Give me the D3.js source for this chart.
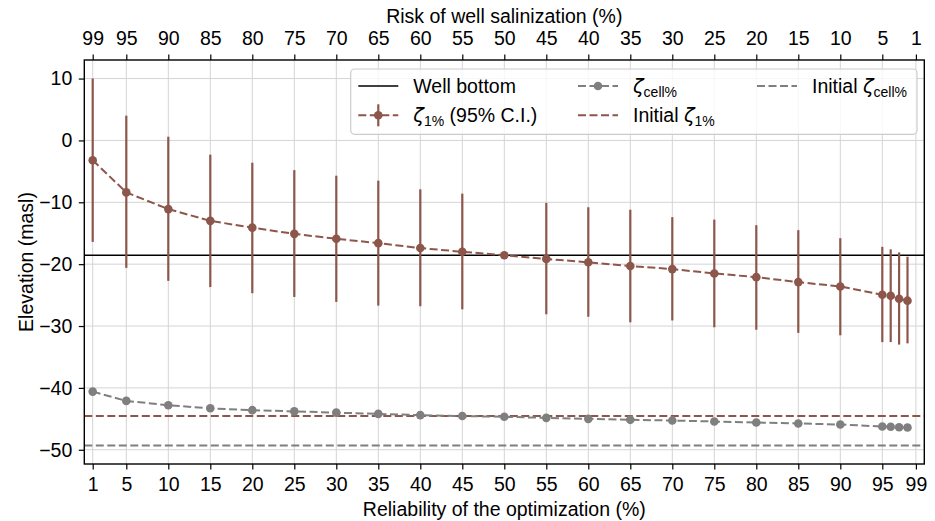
<!DOCTYPE html>
<html>
<head>
<meta charset="utf-8">
<script src="https://cdn.jsdelivr.net/npm/d3@7"></script>
<style>
  body { margin: 0; background: #fff; }
  svg { display: block; font-family: "Liberation Sans", Arial, sans-serif; }
</style>
</head>
<body>
<svg id="chart"></svg>
<script>
// reliability of the optimization (%) for each computed point
const reliability = [1, 5, 10, 15, 20, 25, 30, 35, 40, 45, 50, 55, 60, 65, 70, 75, 80, 85, 90, 95, 96, 97, 98];
// zeta 1% elevation and its 95% confidence interval
const zeta1 = [-3.2, -8.4, -11.1, -13.0, -14.1, -15.1, -15.9, -16.6, -17.4, -18.0, -18.55, -19.15, -19.7, -20.3, -20.8, -21.5, -22.1, -22.9, -23.6, -24.95, -25.1, -25.6, -25.9];
const ciLow = [-16.4, -20.6, -22.7, -23.7, -24.7, -25.3, -26.1, -26.7, -26.8, -27.3, null, -28.1, -28.5, -29.4, -29.1, -30.2, -30.6, -31.1, -31.5, -32.6, -32.6, -33.0, -32.8];
const ciHigh = [10.0, 4.0, 0.6, -2.3, -3.6, -4.8, -5.7, -6.5, -7.9, -8.6, null, -10.1, -10.8, -11.2, -12.4, -12.8, -13.7, -14.5, -15.8, -17.2, -17.6, -18.1, -18.8];
// zeta cell% elevation
const zetaCell = [-40.6, -42.1, -42.8, -43.3, -43.6, -43.8, -44.0, -44.2, -44.4, -44.55, -44.67, -44.84, -45.0, -45.16, -45.27, -45.43, -45.6, -45.75, -45.92, -46.24, -46.29, -46.35, -46.4];
// reference levels
const wellBottom = -18.55;
const initialZeta1 = -44.55;
const initialZetaCell = -49.3;
// tick labels
const bottomTicks = [1, 5, 10, 15, 20, 25, 30, 35, 40, 45, 50, 55, 60, 65, 70, 75, 80, 85, 90, 95, 99];
const topTickLabels = [99, 95, 90, 85, 80, 75, 70, 65, 60, 55, 50, 45, 40, 35, 30, 25, 20, 15, 10, 5, 1];
const yTicks = [-50, -40, -30, -20, -10, 0, 10];

const width = 935, height = 521;
const margin = {left: 84.3, right: 10.7, top: 60, bottom: 57};
const brown = "#8c564b", grey = "#7f7f7f";
const fontSize = 19.5;

const svg = d3.select("#chart").attr("width", width).attr("height", height);

const x = d3.scaleLinear().domain([0, 100]).range([margin.left, width - margin.right]);
const y = d3.scaleLinear().domain([-52.3, 13.0]).range([height - margin.bottom, margin.top]);

const data = reliability.map((r, i) => ({r, z: zeta1[i], lo: ciLow[i], hi: ciHigh[i], c: zetaCell[i]}));

// grid
const grid = svg.append("g").attr("stroke", "#d4d4d4").attr("stroke-width", 1);
grid.selectAll("line.vx").data(bottomTicks).enter().append("line")
  .attr("x1", d => x(d)).attr("x2", d => x(d))
  .attr("y1", y.range()[0]).attr("y2", y.range()[1]);
grid.selectAll("line.hy").data(yTicks).enter().append("line")
  .attr("y1", d => y(d)).attr("y2", d => y(d))
  .attr("x1", x.range()[0]).attr("x2", x.range()[1]);

// horizontal reference lines
function hline(v, color, dash) {
  svg.append("line")
    .attr("x1", x.range()[0]).attr("x2", x.range()[1])
    .attr("y1", y(v)).attr("y2", y(v))
    .attr("stroke", color).attr("stroke-width", dash ? 2 : 1.4)
    .attr("stroke-dasharray", dash ? "8,3.5" : null);
}
hline(initialZetaCell, grey, true);
hline(initialZeta1, brown, true);
hline(wellBottom, "#000", false);

const line = d3.line().x(d => x(d[0])).y(d => y(d[1]));

// zeta cell% series
svg.append("path")
  .datum(data.map(d => [d.r, d.c]))
  .attr("d", line).attr("fill", "none")
  .attr("stroke", grey).attr("stroke-width", 2).attr("stroke-dasharray", "8,3.5");
svg.selectAll("circle.cell").data(data).enter().append("circle")
  .attr("cx", d => x(d.r)).attr("cy", d => y(d.c)).attr("r", 4.3).attr("fill", grey);

// zeta 1% series with error bars
svg.selectAll("line.err").data(data.filter(d => d.lo !== null)).enter().append("line")
  .attr("x1", d => x(d.r)).attr("x2", d => x(d.r))
  .attr("y1", d => y(d.lo)).attr("y2", d => y(d.hi))
  .attr("stroke", brown).attr("stroke-width", 2.2);
svg.append("path")
  .datum(data.map(d => [d.r, d.z]))
  .attr("d", line).attr("fill", "none")
  .attr("stroke", brown).attr("stroke-width", 2).attr("stroke-dasharray", "8,3.5");
svg.selectAll("circle.z1").data(data).enter().append("circle")
  .attr("cx", d => x(d.r)).attr("cy", d => y(d.z)).attr("r", 4.3).attr("fill", brown);

// axes
function styleAxis(g) {
  g.select(".domain").remove();
  g.selectAll(".tick line").attr("stroke", "#000").attr("stroke-width", 1.2);
  g.selectAll(".tick text").attr("fill", "#000").style("font-size", fontSize + "px")
    .style("font-family", '"Liberation Sans", Arial, sans-serif');
}
svg.append("g")
  .attr("transform", `translate(0,${height - margin.bottom})`)
  .call(d3.axisBottom(x).tickValues(bottomTicks).tickSize(5.5).tickPadding(8).tickFormat(d3.format("d")))
  .call(styleAxis);
svg.append("g")
  .attr("transform", `translate(0,${margin.top})`)
  .call(d3.axisTop(x).tickValues(topTickLabels.map(v => 100 - v)).tickSize(5.5).tickPadding(9.5)
    .tickFormat((d, i) => topTickLabels[i]))
  .call(styleAxis);
svg.append("g")
  .attr("transform", `translate(${margin.left},0)`)
  .call(d3.axisLeft(y).tickValues(yTicks).tickSize(5.5).tickPadding(6.5))
  .call(styleAxis);

// frame
svg.append("rect")
  .attr("x", x.range()[0]).attr("y", y.range()[1])
  .attr("width", x.range()[1] - x.range()[0]).attr("height", y.range()[0] - y.range()[1])
  .attr("fill", "none").attr("stroke", "#000").attr("stroke-width", 1.4);

// axis titles
svg.append("text").attr("x", (x.range()[0] + x.range()[1]) / 2).attr("y", 22.5)
  .attr("text-anchor", "middle").style("font-size", fontSize + "px")
  .text("Risk of well salinization (%)");
svg.append("text").attr("x", (x.range()[0] + x.range()[1]) / 2).attr("y", 516)
  .attr("text-anchor", "middle").style("font-size", fontSize + "px")
  .text("Reliability of the optimization (%)");
svg.append("text")
  .attr("transform", `translate(33,${(y.range()[0] + y.range()[1]) / 2}) rotate(-90)`)
  .attr("text-anchor", "middle").style("font-size", fontSize + "px")
  .text("Elevation (masl)");

// legend
const legend = svg.append("g");
legend.append("rect")
  .attr("x", 350.7).attr("y", 69).attr("width", 566.3).attr("height", 65.3).attr("rx", 4)
  .attr("fill", "#fff").attr("fill-opacity", 0.8).attr("stroke", "#cccccc").attr("stroke-width", 1.2);

function zetaLabel(g, sub, prefix, suffix) {
  const t = g.append("text").style("font-size", fontSize + "px");
  if (prefix) t.append("tspan").text(prefix);
  t.append("tspan").style("font-family", '"DejaVu Sans", sans-serif').style("font-style", "italic").text("ζ");
  t.append("tspan").attr("dy", 4).style("font-size", "14px").text(sub);
  if (suffix) t.append("tspan").attr("dy", -4).text(suffix);
  return t;
}

const items = [
  {col: 0, row: 0, kind: "solid", color: "#000"},
  {col: 0, row: 1, kind: "err", color: brown},
  {col: 1, row: 0, kind: "marker", color: grey},
  {col: 1, row: 1, kind: "dash", color: brown},
  {col: 2, row: 0, kind: "dash", color: grey}
];
const colX = [358.3, 578, 757];
const rowY = [86, 115.3];
items.forEach(it => {
  const g = legend.append("g").attr("transform", `translate(${colX[it.col]},${rowY[it.row]})`);
  g.append("line").attr("x1", 0).attr("x2", 40).attr("y1", 0).attr("y2", 0)
    .attr("stroke", it.color).attr("stroke-width", it.kind === "solid" ? 1.4 : 2)
    .attr("stroke-dasharray", it.kind === "solid" ? null : "8,3.5");
  if (it.kind === "err") {
    g.append("line").attr("x1", 20).attr("x2", 20).attr("y1", -11).attr("y2", 11)
      .attr("stroke", it.color).attr("stroke-width", 2.2);
  }
  if (it.kind === "err" || it.kind === "marker") {
    g.append("circle").attr("cx", 20).attr("cy", 0).attr("r", 4.3).attr("fill", it.color);
  }
});
legend.append("text").attr("x", colX[0] + 55).attr("y", rowY[0] + 6.7)
  .style("font-size", fontSize + "px").text("Well bottom");
zetaLabel(legend, "1%", null, " (95% C.I.)").attr("x", colX[0] + 55).attr("y", rowY[1] + 6.7);
zetaLabel(legend, "cell%", null, null).attr("x", colX[1] + 55).attr("y", rowY[0] + 6.7);
zetaLabel(legend, "1%", "Initial ", null).attr("x", colX[1] + 55).attr("y", rowY[1] + 6.7);
zetaLabel(legend, "cell%", "Initial ", null).attr("x", colX[2] + 55).attr("y", rowY[0] + 6.7);
</script>
</body>
</html>
